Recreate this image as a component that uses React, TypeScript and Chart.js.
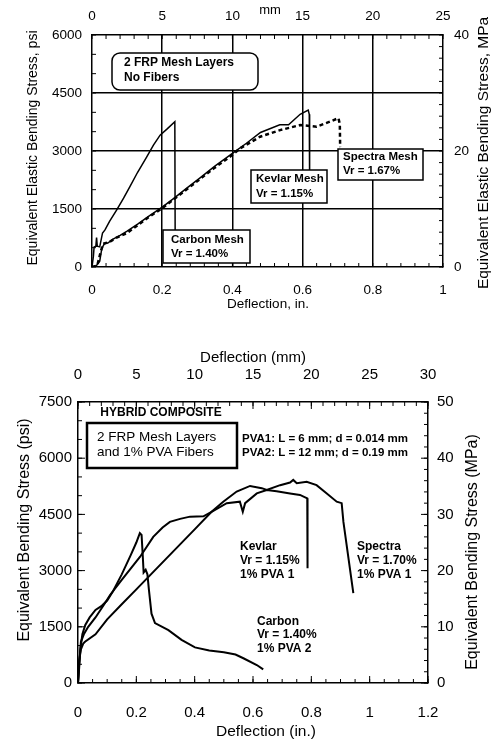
import React, { useEffect, useRef } from "react";
import { Chart, registerables } from "chart.js";
Chart.register(...registerables);

const FONT = "'Liberation Sans', Arial, Helvetica, sans-serif";

// ---------- Upper chart: 2 FRP mesh layers, no fibers ----------
const upperInTicks = [0, 0.2, 0.4, 0.6, 0.8, 1];
const upperMmTicks = [0, 5, 10, 15, 20, 25];
const upperPsiTicks = [0, 1500, 3000, 4500, 6000];
const upperMpaTicks = [0, 20, 40];

const upperCarbonX = [0, 0.004, 0.006, 0.011, 0.013, 0.015, 0.022, 0.03, 0.037, 0.05, 0.07, 0.09, 0.108, 0.13, 0.156, 0.175, 0.194, 0.215, 0.236, 0.237];
const upperCarbonY = [0, 280, 520, 540, 760, 540, 520, 880, 960, 1180, 1470, 1780, 2080, 2450, 2850, 3150, 3410, 3580, 3760, 600];

const upperKevlarX = [0, 0.012, 0.022, 0.028, 0.035, 0.045, 0.06, 0.08, 0.1, 0.13, 0.16, 0.2, 0.234, 0.27, 0.307, 0.35, 0.402, 0.44, 0.48, 0.535, 0.56, 0.593, 0.616, 0.619, 0.62];
const upperKevlarY = [0, 30, 150, 480, 600, 620, 720, 820, 930, 1110, 1300, 1550, 1780, 2040, 2300, 2610, 2950, 3200, 3480, 3680, 3680, 3950, 4060, 3950, 2200];

const upperSpectraX = [0, 0.015, 0.025, 0.032, 0.05, 0.07, 0.1, 0.13, 0.16, 0.2, 0.234, 0.27, 0.307, 0.35, 0.4, 0.422, 0.479, 0.536, 0.593, 0.64, 0.678, 0.702, 0.706, 0.707];
const upperSpectraY = [0, 40, 400, 600, 650, 760, 880, 1080, 1280, 1520, 1760, 2010, 2270, 2570, 2900, 3070, 3370, 3540, 3670, 3630, 3760, 3850, 3700, 3100];

// ---------- Lower chart: hybrid composite ----------
const lowerInTicks = [0, 0.2, 0.4, 0.6, 0.8, 1, 1.2];
const lowerMmTicks = [0, 5, 10, 15, 20, 25, 30];
const lowerPsiTicks = [0, 1500, 3000, 4500, 6000, 7500];
const lowerMpaTicks = [0, 10, 20, 30, 40, 50];

const lowerCarbonX = [0, 0.004, 0.008, 0.015, 0.025, 0.04, 0.06, 0.08, 0.1, 0.12, 0.15, 0.18, 0.2, 0.212, 0.218, 0.222, 0.225, 0.232, 0.238, 0.243, 0.252, 0.264, 0.31, 0.355, 0.401, 0.45, 0.5, 0.54, 0.567, 0.613, 0.635];
const lowerCarbonY = [0, 400, 900, 1300, 1550, 1750, 1950, 2050, 2200, 2450, 2900, 3400, 3750, 4000, 3950, 3400, 2950, 3020, 2900, 2500, 1850, 1600, 1410, 1150, 950, 870, 820, 760, 660, 480, 365];

const lowerKevlarX = [0, 0.004, 0.01, 0.02, 0.035, 0.06, 0.09, 0.11, 0.15, 0.213, 0.258, 0.29, 0.315, 0.35, 0.384, 0.43, 0.458, 0.51, 0.555, 0.565, 0.573, 0.613, 0.647, 0.681, 0.727, 0.761, 0.786, 0.787];
const lowerKevlarY = [0, 500, 1100, 1300, 1500, 1750, 2100, 2350, 2750, 3370, 3900, 4150, 4300, 4380, 4440, 4450, 4570, 4800, 4840, 4570, 4800, 5060, 5150, 5120, 5060, 5020, 4930, 3060];

const lowerSpectraX = [0, 0.004, 0.01, 0.018, 0.024, 0.06, 0.1, 0.15, 0.2, 0.25, 0.3, 0.35, 0.4, 0.458, 0.498, 0.544, 0.59, 0.63, 0.647, 0.693, 0.727, 0.738, 0.75, 0.784, 0.818, 0.853, 0.887, 0.904, 0.91, 0.944];
const lowerSpectraY = [0, 600, 900, 1050, 1100, 1300, 1700, 2100, 2500, 2900, 3300, 3700, 4100, 4570, 4840, 5110, 5260, 5200, 5150, 5280, 5350, 5420, 5330, 5370, 5280, 5060, 4840, 4800, 4300, 2400];

function pts(xs: number[], ys: number[]) {
  return xs.map((x, i) => ({ x, y: ys[i] }));
}

type TextItem = { t: string; x: number; y: number; size: number; bold?: boolean; align?: CanvasTextAlign; rot?: boolean };
type BoxItem = { x: number; y: number; w: number; h: number; r: number; lw: number };
type TickSet = { id: string; step: number; len: number };

function decorPlugin(ticks: TickSet[], boxes: BoxItem[], texts: TextItem[]) {
  return {
    id: "decor",
    afterDatasetsDraw(chart: any) {
      const ctx = chart.ctx as CanvasRenderingContext2D;
      const a = chart.chartArea;
      ctx.save();
      ctx.strokeStyle = "#000";
      ctx.lineWidth = 1;
      for (const t of ticks) {
        const s = chart.scales[t.id];
        const n = Math.round((s.max - s.min) / t.step);
        ctx.beginPath();
        for (let i = 0; i <= n; i++) {
          const p = s.getPixelForValue(s.min + i * t.step);
          if (s.position === "bottom") { ctx.moveTo(p, a.bottom); ctx.lineTo(p, a.bottom - t.len); }
          else if (s.position === "top") { ctx.moveTo(p, a.top); ctx.lineTo(p, a.top + t.len); }
          else if (s.position === "left") { ctx.moveTo(a.left, p); ctx.lineTo(a.left + t.len, p); }
          else { ctx.moveTo(a.right, p); ctx.lineTo(a.right - t.len, p); }
        }
        ctx.stroke();
      }
      for (const b of boxes) {
        ctx.beginPath();
        const { x, y, w, h, r } = b;
        ctx.moveTo(x + r, y);
        ctx.lineTo(x + w - r, y);
        ctx.arcTo(x + w, y, x + w, y + r, r);
        ctx.lineTo(x + w, y + h - r);
        ctx.arcTo(x + w, y + h, x + w - r, y + h, r);
        ctx.lineTo(x + r, y + h);
        ctx.arcTo(x, y + h, x, y + h - r, r);
        ctx.lineTo(x, y + r);
        ctx.arcTo(x, y, x + r, y, r);
        ctx.closePath();
        ctx.fillStyle = "#fff";
        ctx.fill();
        ctx.lineWidth = b.lw;
        ctx.stroke();
      }
      ctx.fillStyle = "#000";
      ctx.textBaseline = "middle";
      for (const t of texts) {
        ctx.font = `${t.bold ? "bold " : ""}${t.size}px ${FONT}`;
        ctx.textAlign = t.align || "left";
        if (t.rot) {
          ctx.save();
          ctx.translate(t.x, t.y);
          ctx.rotate(-Math.PI / 2);
          ctx.fillText(t.t, 0, 0);
          ctx.restore();
        } else {
          ctx.fillText(t.t, t.x, t.y);
        }
      }
      ctx.restore();
    },
  };
}

function axis(position: string, min: number, max: number, vals: number[], padding: number, box: number, fontSize: number, gridOn: boolean) {
  return {
    type: "linear",
    position,
    min,
    max,
    afterBuildTicks: (s: any) => { s.ticks = vals.map((v) => ({ value: v })); },
    afterFit: (s: any) => {
      if (position === "left" || position === "right") s.width = box; else s.height = box;
    },
    ticks: {
      padding,
      color: "#000",
      font: { family: FONT, size: fontSize },
      maxRotation: 0,
      minRotation: 0,
      autoSkip: false,
      callback: (v: any) => String(v),
    },
    grid: {
      display: gridOn,
      drawTicks: false,
      color: (c: any) => (c.tick && (c.tick.value === min || c.tick.value === max) ? "rgba(0,0,0,0)" : "#000"),
      lineWidth: 1.5,
    },
    border: { display: true, color: "#000", width: 1.5 },
  };
}

function line(data: { x: number; y: number }[], width: number, dash: number[] = []) {
  return {
    data,
    borderColor: "#000",
    borderWidth: width,
    borderDash: dash,
    pointRadius: 0,
    fill: false,
    tension: 0,
    xAxisID: "x",
    yAxisID: "y",
  };
}

function upperConfig(): any {
  const texts: TextItem[] = [
    { t: "2 FRP Mesh Layers", x: 124, y: 63, size: 12, bold: true },
    { t: "No Fibers", x: 124, y: 78, size: 12, bold: true },
    { t: "Carbon Mesh", x: 171, y: 240, size: 11.5, bold: true },
    { t: "Vr = 1.40%", x: 171, y: 254, size: 11.5, bold: true },
    { t: "Kevlar Mesh", x: 256, y: 179, size: 11.5, bold: true },
    { t: "Vr = 1.15%", x: 256, y: 194, size: 11.5, bold: true },
    { t: "Spectra Mesh", x: 343, y: 157, size: 11.5, bold: true },
    { t: "Vr = 1.67%", x: 343, y: 171, size: 11.5, bold: true },
    { t: "Equivalent Elastic Bending Stress, psi", x: 33, y: 148, size: 14, rot: true, align: "center" },
    { t: "Equivalent Elastic Bending Stress, MPa", x: 484, y: 153, size: 15.5, rot: true, align: "center" },
    { t: "Deflection, in.", x: 268, y: 304, size: 13.5, align: "center" },
    { t: "mm", x: 270, y: 10, size: 13, align: "center" },
  ];
  const boxes: BoxItem[] = [
    { x: 112, y: 53, w: 146, h: 37, r: 8, lw: 1.5 },
    { x: 163, y: 230, w: 87, h: 33, r: 0, lw: 1.5 },
    { x: 251, y: 170, w: 76, h: 33, r: 0, lw: 1.5 },
    { x: 338, y: 149, w: 85, h: 31, r: 0, lw: 1.5 },
  ];
  const ticks: TickSet[] = [
    { id: "x", step: 0.04, len: 4 },
    { id: "x2", step: 1, len: 4 },
    { id: "y", step: 500, len: 4 },
    { id: "y2", step: 2, len: 4 },
  ];
  return {
    type: "line",
    data: {
      datasets: [
        line(pts(upperCarbonX, upperCarbonY), 1.5),
        line(pts(upperKevlarX, upperKevlarY), 1.5),
        line(pts(upperSpectraX, upperSpectraY), 2.5, [4, 3]),
      ],
    },
    options: {
      responsive: false,
      animation: false,
      devicePixelRatio: 1,
      layout: { padding: 0 },
      plugins: { legend: { display: false }, tooltip: { enabled: false } },
      scales: {
        x: axis("bottom", 0, 1, upperInTicks, 15, 53, 13.5, true),
        x2: axis("top", 0, 25, upperMmTicks, 11, 35, 13.5, false),
        y: axis("left", 0, 6000, upperPsiTicks, 10, 92, 13.5, true),
        y2: axis("right", 0, 40, upperMpaTicks, 11, 48, 13.5, false),
      },
    },
    plugins: [decorPlugin(ticks, boxes, texts)],
  };
}

function lowerConfig(): any {
  const texts: TextItem[] = [
    { t: "HYBRID COMPOSITE", x: 161, y: 93, size: 12, bold: true, align: "center" },
    { t: "2 FRP Mesh Layers", x: 97, y: 117, size: 13.5 },
    { t: "and 1% PVA Fibers", x: 97, y: 132, size: 13.5 },
    { t: "PVA1: L = 6 mm; d = 0.014 mm", x: 242, y: 119, size: 11.5, bold: true },
    { t: "PVA2: L = 12 mm; d = 0.19 mm", x: 242, y: 133, size: 11.5, bold: true },
    { t: "Kevlar", x: 240, y: 227, size: 12, bold: true },
    { t: "Vr = 1.15%", x: 240, y: 241, size: 12, bold: true },
    { t: "1% PVA 1", x: 240, y: 255, size: 12, bold: true },
    { t: "Spectra", x: 357, y: 227, size: 12, bold: true },
    { t: "Vr = 1.70%", x: 357, y: 241, size: 12, bold: true },
    { t: "1% PVA 1", x: 357, y: 255, size: 12, bold: true },
    { t: "Carbon", x: 257, y: 302, size: 12, bold: true },
    { t: "Vr = 1.40%", x: 257, y: 315, size: 12, bold: true },
    { t: "1% PVA 2", x: 257, y: 329, size: 12, bold: true },
    { t: "Deflection (mm)", x: 253, y: 38, size: 15, align: "center" },
    { t: "Deflection (in.)", x: 266, y: 412, size: 15.5, align: "center" },
    { t: "Equivalent Bending Stress (psi)", x: 25, y: 210, size: 16, rot: true, align: "center" },
    { t: "Equivalent Bending Stress (MPa)", x: 473, y: 232, size: 16, rot: true, align: "center" },
  ];
  const boxes: BoxItem[] = [{ x: 87, y: 103, w: 150, h: 45, r: 0, lw: 2.5 }];
  const ticks: TickSet[] = [
    { id: "x", step: 0.05, len: 4 },
    { id: "x2", step: 1, len: 4 },
    { id: "y", step: 500, len: 4 },
    { id: "y2", step: 2, len: 4 },
    { id: "x", step: 0.2, len: 7 },
    { id: "x2", step: 5, len: 7 },
    { id: "y", step: 1500, len: 7 },
    { id: "y2", step: 10, len: 7 },
  ];
  return {
    type: "line",
    data: {
      datasets: [
        line(pts(lowerCarbonX, lowerCarbonY), 2),
        line(pts(lowerKevlarX, lowerKevlarY), 2),
        line(pts(lowerSpectraX, lowerSpectraY), 2),
      ],
    },
    options: {
      responsive: false,
      animation: false,
      devicePixelRatio: 1,
      layout: { padding: 0 },
      plugins: { legend: { display: false }, tooltip: { enabled: false } },
      scales: {
        x: axis("bottom", 0, 1.2, lowerInTicks, 21, 61, 15, false),
        x2: axis("top", 0, 30, lowerMmTicks, 18, 82, 15, false),
        y: axis("left", 0, 7500, lowerPsiTicks, 6, 78, 15, false),
        y2: axis("right", 0, 50, lowerMpaTicks, 9, 63, 15, false),
      },
    },
    plugins: [decorPlugin(ticks, boxes, texts)],
  };
}

export default function App() {
  const r1 = useRef<HTMLCanvasElement>(null);
  const r2 = useRef<HTMLCanvasElement>(null);
  useEffect(() => {
    const c1 = new Chart(r1.current as HTMLCanvasElement, upperConfig());
    const c2 = new Chart(r2.current as HTMLCanvasElement, lowerConfig());
    return () => {
      c1.destroy();
      c2.destroy();
    };
  }, []);
  return (
    <div style={{ position: "absolute", left: 0, top: 0, width: 491, height: 744, background: "#fff" }}>
      <canvas ref={r1} width={491} height={320} style={{ position: "absolute", left: 0, top: 0, width: 491, height: 320 }} />
      <canvas ref={r2} width={491} height={424} style={{ position: "absolute", left: 0, top: 320, width: 491, height: 424 }} />
    </div>
  );
}
